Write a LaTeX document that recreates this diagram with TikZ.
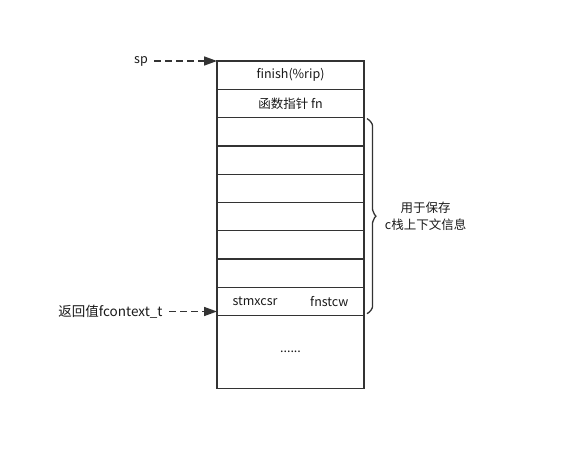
\documentclass[tikz,border=0pt]{standalone}
\usepackage{fontspec}
\setmainfont{Noto Sans CJK SC}
\usetikzlibrary{arrows.meta,positioning,decorations.pathreplacing}
\definecolor{linegray}{HTML}{333333}

\begin{document}
\begin{tikzpicture}[
    node distance=0pt,
    every node/.style={font=\fontsize{12.5pt}{15pt}\selectfont, text=black!90},
    cell/.style={
      draw=linegray,
      line width=1.3pt,
      minimum width=147pt,
      minimum height=28.3pt,
      inner sep=0pt,
      outer sep=0pt
    },
    ptr/.style={-{Triangle[length=13pt,width=9pt]}, line width=1.6pt, linegray, dash pattern=on 7pt off 4pt}
  ]
    \useasboundingbox (0,0) rectangle (563pt,-452pt);

    \node[cell] (r1) at (290.5pt,-75.15pt) {finish(\%rip)};
    \node[cell, below=of r1] (r2) {函数指针 fn};
    \node[cell, below=of r2] (r3) {};
    \node[cell, below=of r3] (r4) {};
    \node[cell, below=of r4] (r5) {};
    \node[cell, below=of r5] (r6) {};
    \node[cell, below=of r6] (r7) {};
    \node[cell, below=of r7] (r8) {};
    \node[cell, below=of r8] (r9) {};
    \node[cell, minimum height=73pt, below=of r9, text depth=-6pt] (rest) {......};

    \node[anchor=west] at ([xshift=12pt]r9.west) {stmxcsr};
    \node[anchor=east] at ([xshift=-12pt]r9.east) {fnstcw};

    \node (sp) at (141pt,-61pt) {sp};
    \node[anchor=east, font=\fontsize{13.5pt}{15pt}\selectfont] (ret) at (166pt,-311.5pt) {返回值fcontext\_t};

    \draw[ptr] (sp.east) ++(3pt,0) coordinate (spstart) -- (spstart -| r1.west);
    \draw[ptr] ([xshift=3pt]ret.east) -- (ret.east -| r9.west);

    \draw[linegray, line width=1.3pt, rounded corners=4pt,
      decorate, decoration={brace, amplitude=11pt}]
      ([xshift=3pt,yshift=-1pt]r3.north east) -- ([xshift=3pt,yshift=2pt]r9.south east)
      node[midway, right=14pt, align=center, font=\fontsize{12.5pt}{17pt}\selectfont] (info) {用于保存\\c栈上下文信息};
  \end{tikzpicture}
\end{document}
